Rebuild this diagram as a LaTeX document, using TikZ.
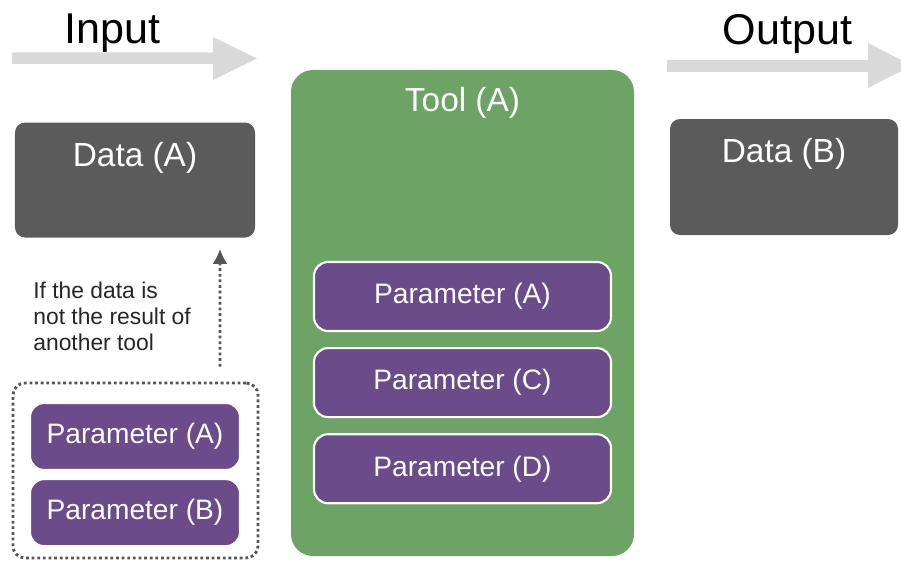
\documentclass[tikz,border=0pt]{standalone}
\usepackage{fontspec}
\setmainfont{Liberation Sans}
\usetikzlibrary{positioning,arrows.meta}
\definecolor{flowgray}{HTML}{D9D9D9}
\definecolor{datagray}{HTML}{5B5B5B}
\definecolor{toolgreen}{HTML}{6DA364}
\definecolor{parampurple}{HTML}{6B4B8A}
\definecolor{dotgray}{HTML}{555555}
\tikzset{
  databox/.style={fill=datagray, rounded corners=0.2cm, minimum width=4.8cm, minimum height=2.3cm},
  toolbox/.style={fill=toolgreen, rounded corners=0.44cm, minimum width=6.86cm, minimum height=9.72cm},
  parambox/.style={fill=parampurple, draw=white, line width=1.2pt, rounded corners=0.28cm,
    text=white, font=\fontsize{16}{19}\selectfont, inner sep=0pt},
  boxtitle/.style={text=white, font=\fontsize{19}{23}\selectfont, anchor=base, inner sep=0pt},
  flowtitle/.style={text=black, font=\fontsize{24.5}{29}\selectfont, anchor=base, inner sep=0pt},
  dotline/.style={draw=dotgray, line width=1.6pt, dash pattern=on 1.6pt off 1.6pt}
}
\begin{document}
\begin{tikzpicture}
\useasboundingbox (0,0) rectangle (18.02,11.22);
\fill[white] (0,0) rectangle (18.02,11.22);

% Input flow arrow
\fill[flowgray] (0.24,9.94) -- (4.26,9.94) -- (4.26,9.62) -- (5.14,10.05)
  -- (4.26,10.48) -- (4.26,10.17) -- (0.24,10.17) -- cycle;
\node[flowtitle] (input) at (2.25,10.34) {Input};

% Output flow arrow
\fill[flowgray] (13.34,9.78) -- (17.36,9.78) -- (17.36,9.46) -- (18.24,9.91)
  -- (17.36,10.36) -- (17.36,10.02) -- (13.34,10.02) -- cycle;
\node[flowtitle] (output) at (15.75,10.32) {Output};

% Data boxes
\node[databox] (dataA) at (2.70,7.62) {};
\node[boxtitle] (dataAtitle) at ([yshift=-0.88cm]dataA.north) {Data (A)};
\node[databox, minimum width=4.56cm, minimum height=2.32cm] (dataB) at (15.68,7.68) {};
\node[boxtitle] (dataBtitle) at ([yshift=-0.88cm]dataB.north) {Data (B)};

% Tool box with its parameters
\node[toolbox] (tool) at (9.25,4.96) {};
\node[boxtitle] (tooltitle) at ([yshift=-0.84cm]tool.north) {Tool (A)};
\node[parambox, minimum width=5.94cm, minimum height=1.38cm] (toolA) at (9.25,5.29) {Parameter (A)};
\node[parambox, minimum width=5.94cm, minimum height=1.38cm, below=0.3cm of toolA] (toolC) {Parameter (C)};
\node[parambox, minimum width=5.94cm, minimum height=1.38cm, below=0.3cm of toolC] (toolD) {Parameter (D)};

% Input parameters
\node[dotline, rounded corners=0.24cm, minimum width=4.9cm, minimum height=3.5cm] (inbox) at (2.71,1.81) {};
\node[parambox, minimum width=4.2cm, minimum height=1.34cm] (inA) at (2.70,2.49) {Parameter (A)};
\node[parambox, minimum width=4.2cm, minimum height=1.34cm, below=0.14cm of inA] (inB) {Parameter (B)};

% Note and dotted arrow
\node[anchor=north west, align=left, inner sep=0pt, text=black!85,
  font=\fontsize{13}{14.8}\selectfont] (note) at (0.66,5.58)
  {If the data is\\not the result of\\another tool};
\draw[dotline, -{Latex[length=0.3cm,width=0.3cm]}, shorten <=0.3cm, shorten >=0.22cm]
  ([xshift=1.69cm]inbox.north) -- ([xshift=1.7cm]dataA.south);
\end{tikzpicture}
\end{document}
